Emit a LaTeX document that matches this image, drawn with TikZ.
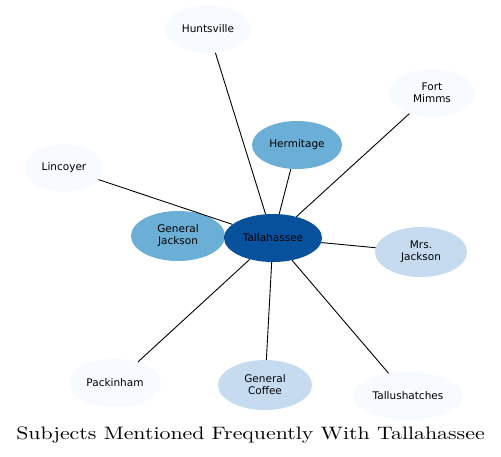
\documentclass[tikz,border=0pt]{standalone}
\usepackage{fontspec}
\newfontfamily\nodefont{DejaVu Sans}
\newfontfamily\titlefont{lmroman10-regular.otf}
\usetikzlibrary{shapes.geometric}
\definecolor{cdark}{HTML}{08519C}
\definecolor{cmid}{HTML}{6BAED6}
\definecolor{clight}{HTML}{C6DBEF}
\definecolor{cpale}{HTML}{F7FBFF}
\tikzset{
  ent/.style={ellipse, inner sep=0pt, align=center, font=\nodefont\fontsize{10.5}{12}\selectfont, text=black},
  edge/.style={draw=black, line width=0.9pt}
}
\begin{document}
\begin{tikzpicture}[x=1pt,y=-1pt]
\useasboundingbox (0,0) rectangle (501,456);
\fill[white] (0,0) rectangle (501,456);
\node[ent, fill=cpale, minimum width=86pt, minimum height=48pt] (hun) at (208,29) {Huntsville};
\node[ent, fill=cpale, minimum width=86pt, minimum height=48pt] (fm) at (432,93) {Fort\\Mimms};
\node[ent, fill=cpale, minimum width=78pt, minimum height=48pt] (lin) at (64,168) {Lincoyer};
\node[ent, fill=cmid, minimum width=90pt, minimum height=48pt] (her) at (297,145) {Hermitage};
\node[ent, fill=cmid, minimum width=94pt, minimum height=50pt] (gj) at (178,236) {General\\Jackson};
\node[ent, fill=clight, minimum width=92pt, minimum height=50pt] (mj) at (421,252) {Mrs.\\Jackson};
\node[ent, fill=cpale, minimum width=92pt, minimum height=48pt] (pak) at (115,383) {Packinham};
\node[ent, fill=clight, minimum width=94pt, minimum height=50pt] (gc) at (265,385) {General\\Coffee};
\node[ent, fill=cpale, minimum width=110pt, minimum height=48pt] (tal2) at (408,396) {Tallushatches};
\node[ent, fill=cdark, minimum width=98pt, minimum height=48pt] (tal) at (273,238) {Tallahassee};
\foreach \n in {hun,fm,lin,her,gj,mj,pak,gc,tal2} {\draw[edge] (tal) -- (\n);}
\node[font=\titlefont\fontsize{18}{20}\selectfont, inner sep=0pt, xscale=1.213] (title) at (250.5,435) {Subjects Mentioned Frequently With Tallahassee};
\end{tikzpicture}
\end{document}
